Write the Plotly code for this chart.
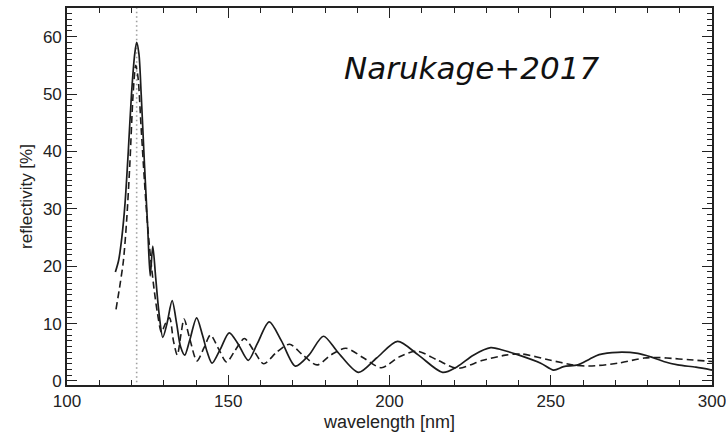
import plotly.graph_objects as go

# Solid curve (reflectivity %, vs wavelength nm)
lam_solid = [115, 116, 117, 118, 119, 120, 121, 121.6, 122.3, 123, 124, 125, 125.8, 126.6,
             127.5, 128.5, 129.7, 131, 132.6, 134, 135.2, 136.5, 138, 140.2, 142, 143.5, 145,
             147.5, 150.3, 153, 156.2, 159, 162.7, 166.5, 170.8, 175, 179.5, 184, 190.4, 196,
             202.5, 209, 216.5, 221, 226, 231.4, 235, 239.7, 246.9, 250.9, 254, 258.4, 262,
             265, 270.8, 277, 281, 285, 289.4, 295, 300]
refl_solid = [19, 21, 25, 31, 40, 50, 57, 59, 57, 50, 38, 27, 18.3, 23.5,
              18, 12, 7.6, 10, 14, 10, 6, 4.5, 7, 11, 8, 5, 3.1,
              5.5, 8.4, 6.5, 3.6, 6.5, 10.3, 7, 2.6, 4.5, 7.8, 5, 1.5, 4,
              6.9, 4.5, 1.5, 2.5, 4.5, 5.8, 5.4, 4.6, 3.1, 1.9, 2.5, 2.8, 3.8,
              4.6, 5.0, 4.8, 4.2, 3.4, 2.8, 2.4, 1.9]

# Dashed curve
lam_dash = [115.2, 116.5, 117.5, 118.5, 119.5, 120.5, 121.3, 122, 123, 124, 125, 126, 127, 128,
            129.3, 130.5, 131.8, 133, 134.2, 135.3, 136.3, 138, 140.3, 142.5, 144.5, 147, 149.5,
            152, 155, 158, 161, 165, 169, 173, 177.5, 182, 186.5, 192, 197.5, 203, 208.5, 215,
            221, 229, 236, 241, 250, 257, 262, 270.8, 279, 283, 286, 293, 300]
refl_dash = [12.5, 17, 21, 28, 38, 50, 55, 53, 44, 35, 27, 21, 16, 12,
             8.5, 10, 11, 7, 4.5, 8, 10.8, 7.5, 3.5, 5.8, 8, 5.6, 3.3,
             5.2, 7.4, 5.2, 3, 5, 6.4, 4.6, 2.8, 4.6, 5.7, 4, 2.3, 4.2, 5.2, 3.6,
             2.2, 3.6, 4.5, 4.7, 3.6, 2.8, 2.6, 3.1, 4, 4.1, 4, 3.7, 3.4]

# Lyman-alpha marker
lya_x = [121.6, 121.6]
lya_y = [-1, 65]

x_range = [100, 300]
y_range = [-0.7, 65]
x_ticks = [100, 150, 200, 250, 300]
y_ticks = [0, 10, 20, 30, 40, 50, 60]

fig = go.Figure()
fig.add_trace(go.Scatter(x=lya_x, y=lya_y, mode="lines",
                         line=dict(color="#a0a0a0", width=1.6, dash="1.5px,3px"),
                         hoverinfo="skip", showlegend=False))
fig.add_trace(go.Scatter(x=lam_dash, y=refl_dash, mode="lines",
                         line=dict(color="#1c1c1c", width=1.6, dash="7px,4px",
                                   shape="spline", smoothing=0.8),
                         showlegend=False))
fig.add_trace(go.Scatter(x=lam_solid, y=refl_solid, mode="lines",
                         line=dict(color="#1c1c1c", width=1.7, shape="spline", smoothing=0.8),
                         showlegend=False))

fig.add_annotation(x=0.627, y=0.84, xref="paper", yref="paper",
                   text="<i>Narukage+2017</i>", showarrow=False,
                   xanchor="center", yanchor="middle",
                   font=dict(family="DejaVu Sans", size=31, color="#111"))

axis_font = dict(family="Liberation Sans, Arial, sans-serif", size=17, color="#222")
title_family = "Liberation Sans, Arial, sans-serif"

fig.update_layout(
    width=726, height=433,
    margin=dict(l=67, r=14, t=8, b=48, autoexpand=False),
    paper_bgcolor="white", plot_bgcolor="white",
    xaxis=dict(range=x_range, tickvals=x_ticks, ticktext=[str(v) for v in x_ticks],
               ticks="inside", ticklen=10, tickwidth=1.3, tickcolor="#222",
               minor=dict(dtick=10, ticks="inside", ticklen=5, tickwidth=1.2, tickcolor="#222"),
               showline=True, linecolor="#222", linewidth=1.6, mirror="allticks",
               showgrid=False, zeroline=False, tickfont=axis_font,
               ticklabeloverflow="allow", automargin=False,
               title=dict(text="wavelength [nm]", font=dict(family=title_family, size=18, color="#222"), standoff=5)),
    yaxis=dict(range=y_range, tickvals=y_ticks, ticktext=[str(v) for v in y_ticks],
               ticks="inside", ticklen=10, tickwidth=1.3, tickcolor="#222",
               minor=dict(dtick=1, ticks="inside", ticklen=5, tickwidth=1.2, tickcolor="#222"),
               showline=True, linecolor="#222", linewidth=1.6, mirror="allticks",
               showgrid=False, zeroline=False, tickfont=axis_font, automargin=False,
               title=dict(text="reflectivity [%]", font=dict(family=title_family, size=17, color="#222"), standoff=6)),
)

fig.write_html("out.html")
